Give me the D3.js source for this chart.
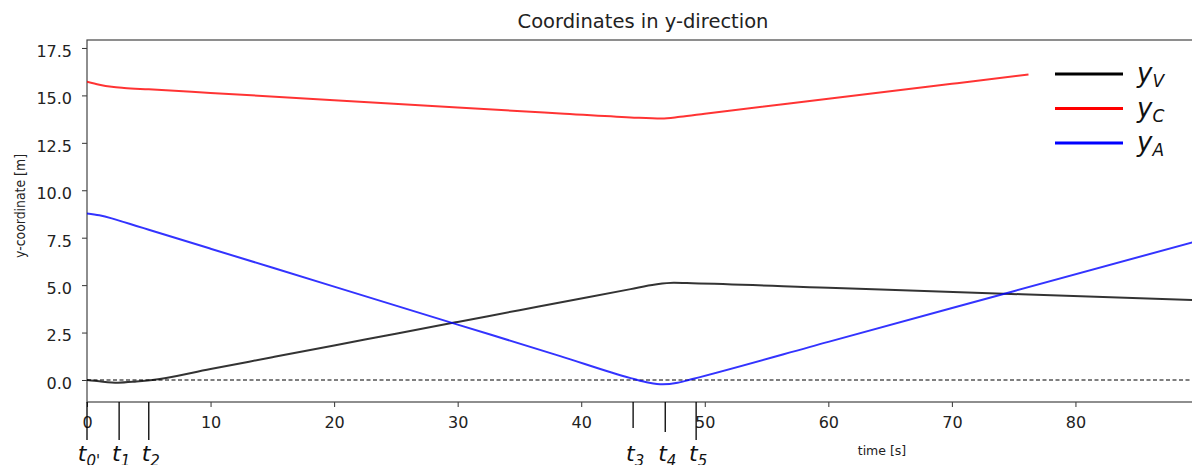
<!DOCTYPE html>
<html>
<head>
<meta charset="utf-8">
<script src="https://cdn.jsdelivr.net/npm/d3@7/dist/d3.min.js"></script>
<style>
  body { margin: 0; background: #fff; }
  svg { display: block; font-family: "DejaVu Sans", sans-serif; }
</style>
</head>
<body>
<svg id="chart" width="1192" height="465"></svg>
<script>
// Axis ticks.
const xTicks = [0, 10, 20, 30, 40, 50, 60, 70, 80];
const yTicks = [0, 2.5, 5, 7.5, 10, 12.5, 15, 17.5];

// y_V (black).
const tV = [0, 1, 2.5, 4, 5.3, 10, 15, 20, 25, 30, 35, 40, 44, 46, 47.5, 49, 60, 74.2, 90];
const yV = [0, -0.07, -0.14, -0.08, 0, 0.58, 1.2, 1.82, 2.44, 3.06, 3.68, 4.3, 4.79, 5.03, 5.12, 5.1, 4.86, 4.55, 4.2];

// y_C (red).
const tC = [0, 1, 2, 3, 5, 10, 20, 30, 38.3, 44, 46.5, 48, 50, 60, 70, 76.2];
const yC = [15.72, 15.56, 15.45, 15.39, 15.32, 15.13, 14.75, 14.36, 14.05, 13.84, 13.78, 13.87, 14.03, 14.82, 15.61, 16.1];

// y_A (blue).
const tA = [0, 1, 2, 3, 4, 5, 10, 20, 30, 38.3, 44, 45.5, 46.6, 47.8, 49, 60, 75, 90];
const yA = [8.78, 8.68, 8.52, 8.32, 8.12, 7.92, 6.92, 4.92, 2.92, 1.26, 0.1, -0.15, -0.23, -0.15, 0.05, 2.01, 4.68, 7.35];

// Phase markers below the time axis.
const eventTimes = [0, 2.6, 5.0, 44.2, 46.8, 49.3];
const eventSubs = ["0'", "1", "2", "3", "4", "5"];

const seriesNames = ['V', 'C', 'A'];
const seriesColors = ['#000000', '#ff0000', '#0000ff'];

const svg = d3.select('#chart');
const plot = {left: 87, right: 1199, top: 40, bottom: 402};

const x = d3.scaleLinear().domain([0, 90]).range([plot.left, plot.right]);
const y = d3.scaleLinear().domain([-1.16, 17.92]).range([plot.bottom, plot.top]);

svg.append('defs').append('clipPath').attr('id', 'clip')
    .append('rect')
    .attr('x', plot.left).attr('y', plot.top)
    .attr('width', plot.right - plot.left).attr('height', plot.bottom - plot.top);

// Title and axis labels.
svg.append('text')
    .attr('x', (plot.left + plot.right) / 2).attr('y', 28)
    .attr('text-anchor', 'middle').attr('font-size', 19.5).attr('fill', '#222')
    .text('Coordinates in y-direction');

svg.append('text')
    .attr('transform', 'translate(25,206) rotate(-90)')
    .attr('text-anchor', 'middle').attr('font-size', 14.5).attr('fill', '#222')
    .attr('textLength', 104).attr('lengthAdjust', 'spacingAndGlyphs')
    .text('y-coordinate [m]');

svg.append('text')
    .attr('x', 882).attr('y', 455)
    .attr('text-anchor', 'middle').attr('font-size', 12.5).attr('fill', '#222')
    .text('time [s]');

// Axes.
const xAxis = svg.append('g')
    .attr('transform', `translate(0,${plot.bottom})`)
    .call(d3.axisBottom(x).tickValues(xTicks).tickFormat(d3.format('d'))
        .tickSize(5).tickPadding(9.5));
const yAxis = svg.append('g')
    .attr('transform', `translate(${plot.left},0)`)
    .call(d3.axisLeft(y).tickValues(yTicks).tickFormat(d3.format('.1f'))
        .tickSize(5).tickPadding(10));
[xAxis, yAxis].forEach((g) => {
  g.select('.domain').remove();
  g.selectAll('line').attr('stroke', '#333');
  g.selectAll('text').attr('font-size', 16).attr('fill', '#222')
      .attr('font-family', '"DejaVu Sans", sans-serif');
});
yAxis.selectAll('text').attr('dy', '0.52em');

// Spines.
svg.append('rect')
    .attr('x', plot.left).attr('y', plot.top)
    .attr('width', plot.right - plot.left).attr('height', plot.bottom - plot.top)
    .attr('fill', 'none').attr('stroke', '#444').attr('stroke-width', 1.2);

const body = svg.append('g').attr('clip-path', 'url(#clip)');

// Zero reference line.
body.append('line')
    .attr('x1', plot.left).attr('x2', plot.right)
    .attr('y1', y(0)).attr('y2', y(0))
    .attr('stroke', '#000').attr('stroke-width', 1.2)
    .attr('stroke-dasharray', '4,2.5');

const line = d3.line()
    .x((d) => x(d[0]))
    .y((d) => y(d[1]))
    .curve(d3.curveMonotoneX);

const series = [
  d3.zip(tV, yV),
  d3.zip(tC, yC),
  d3.zip(tA, yA),
];
series.forEach((pts, i) => {
  body.append('path')
      .datum(pts)
      .attr('d', line)
      .attr('fill', 'none')
      .attr('stroke', seriesColors[i])
      .attr('stroke-opacity', 0.8)
      .attr('stroke-width', 2);
});

// Legend.
const legend = svg.append('g');
seriesNames.forEach((name, i) => {
  const ly = 74 + i * 34.5;
  legend.append('line')
      .attr('x1', 1055).attr('x2', 1123).attr('y1', ly).attr('y2', ly)
      .attr('stroke', seriesColors[i]).attr('stroke-width', 3);
  const t = legend.append('text')
      .attr('x', 1137).attr('y', ly + 8)
      .attr('font-style', 'italic').attr('fill', '#111');
  t.append('tspan').attr('font-size', 26).text('y');
  t.append('tspan').attr('font-size', 17).attr('dy', 5).text(name);
});

// Phase markers t0'..t5.
const markLen = [38, 38, 38, 26, 30, 38];
eventTimes.forEach((tt, i) => {
  svg.append('line')
      .attr('x1', x(tt)).attr('x2', x(tt))
      .attr('y1', plot.bottom).attr('y2', plot.bottom + markLen[i])
      .attr('stroke', '#000').attr('stroke-width', 1.3);
  const t = svg.append('text')
      .attr('x', x(tt) + 2).attr('y', 461)
      .attr('text-anchor', 'middle').attr('font-style', 'italic').attr('fill', '#111');
  t.append('tspan').attr('font-size', 22).text('t');
  t.append('tspan').attr('font-size', 15).attr('dy', 5).text(eventSubs[i]);
});
</script>
</body>
</html>
